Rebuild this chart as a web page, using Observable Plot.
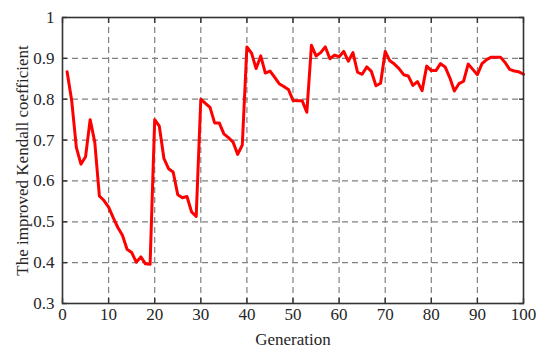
<!DOCTYPE html>
<html>
<head>
<meta charset="utf-8">
<script src="https://cdn.jsdelivr.net/npm/d3@7"></script>
<script src="https://cdn.jsdelivr.net/npm/@observablehq/plot@0.6"></script>
<style>
  html, body { margin: 0; padding: 0; background: #fff; }
  #chart svg { display: block; }
</style>
</head>
<body>
<div id="chart"></div>
<script>
const generations = d3.range(1, 101);
const kendall = [
  0.867, 0.796, 0.682, 0.641, 0.659, 0.750, 0.695, 0.563, 0.552, 0.536,
  0.510, 0.486, 0.467, 0.433, 0.425, 0.401, 0.414, 0.397, 0.396, 0.750,
  0.734, 0.655, 0.630, 0.622, 0.566, 0.559, 0.562, 0.524, 0.513, 0.800,
  0.790, 0.780, 0.742, 0.742, 0.715, 0.706, 0.695, 0.665, 0.688, 0.928,
  0.913, 0.875, 0.906, 0.864, 0.869, 0.854, 0.838, 0.831, 0.824, 0.797,
  0.796, 0.796, 0.768, 0.932, 0.906, 0.914, 0.928, 0.899, 0.908, 0.904,
  0.917, 0.893, 0.914, 0.866, 0.861, 0.879, 0.868, 0.833, 0.839, 0.917,
  0.894, 0.886, 0.875, 0.860, 0.857, 0.834, 0.843, 0.821, 0.881, 0.870,
  0.870, 0.887, 0.879, 0.853, 0.820, 0.838, 0.844, 0.886, 0.873, 0.860,
  0.887, 0.897, 0.903, 0.903, 0.903, 0.890, 0.873, 0.869, 0.867, 0.861
];
const xTicks = [0, 10, 20, 30, 40, 50, 60, 70, 80, 90, 100];
const yTicks = [0.3, 0.4, 0.5, 0.6, 0.7, 0.8, 0.9, 1.0];
const xLabel = "Generation";
const yLabel = "The improved Kendall coefficient";

const data = generations.map((g, i) => ({g, v: kendall[i]}));
const fmtY = d => String(+d.toFixed(1));
const axisColor = "#333";
const gridColor = "#808080";

const chart = Plot.plot({
  width: 550,
  height: 354,
  marginLeft: 62,
  marginRight: 27,
  marginTop: 17,
  marginBottom: 51,
  style: {fontFamily: "'Liberation Serif', 'Times New Roman', serif", fontSize: "17px", color: "#262626", background: "#fff"},
  x: {domain: [0, 100]},
  y: {domain: [0.3, 1.0]},
  marks: [
    Plot.gridX(xTicks.slice(1, -1), {stroke: gridColor, strokeOpacity: 1, strokeWidth: 1.2, strokeDasharray: "6,4"}),
    Plot.gridY(yTicks.slice(1, -1), {stroke: gridColor, strokeOpacity: 1, strokeWidth: 1.2, strokeDasharray: "6,4"}),
    Plot.lineY(data, {x: "g", y: "v", stroke: "#ff0000", strokeWidth: 3, strokeLinejoin: "round"}),
    Plot.frame({stroke: axisColor, strokeWidth: 1.6}),
    Plot.axisX(xTicks, {anchor: "bottom", tickSize: -5, tickPadding: 9, stroke: axisColor, strokeWidth: 1.4, fill: "#262626",
      label: xLabel, labelAnchor: "center", labelArrow: "none", labelOffset: 41}),
    Plot.axisX(xTicks, {anchor: "top", tickSize: -5, tickFormat: () => "", label: null, stroke: axisColor, strokeWidth: 1.4}),
    Plot.axisY(yTicks, {anchor: "left", tickSize: -5, tickPadding: 13, tickFormat: fmtY, stroke: axisColor, strokeWidth: 1.4, fill: "#262626",
      label: yLabel, labelAnchor: "center", labelArrow: "none", labelOffset: 47}),
    Plot.axisY(yTicks, {anchor: "right", tickSize: -5, tickFormat: () => "", label: null, stroke: axisColor, strokeWidth: 1.4})
  ]
});
document.getElementById("chart").appendChild(chart);
</script>
</body>
</html>
